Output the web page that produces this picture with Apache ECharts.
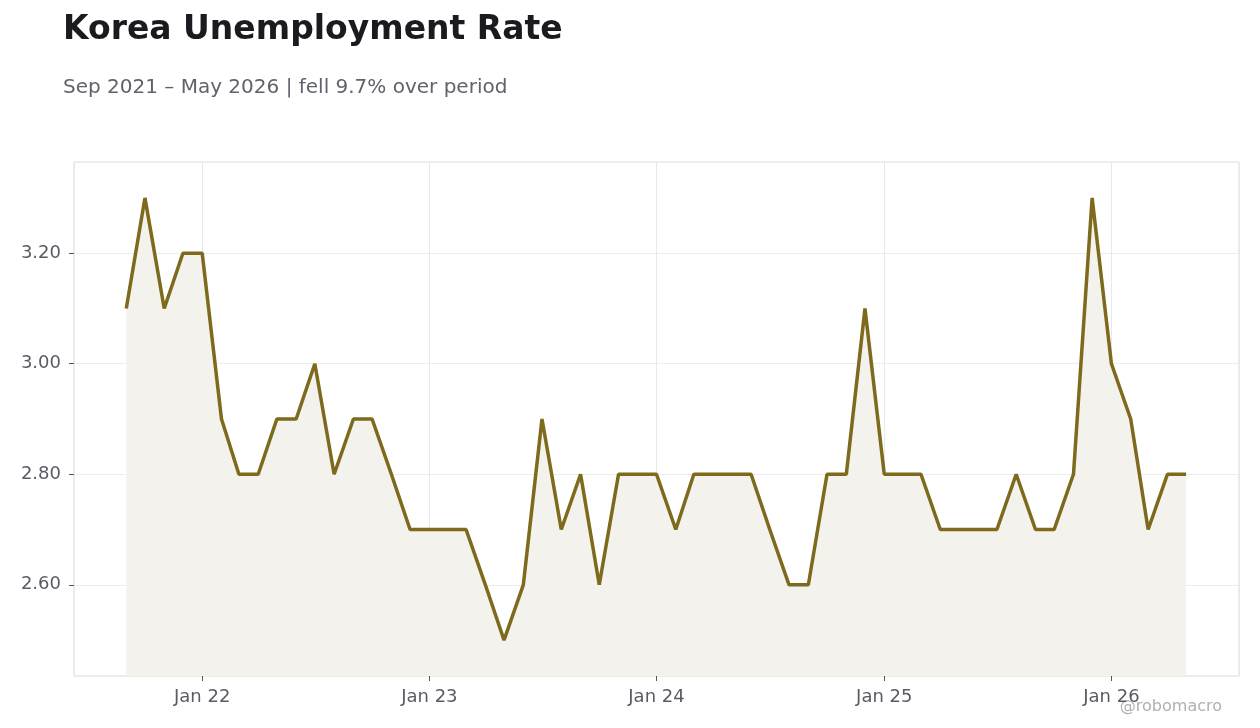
<!DOCTYPE html>
<html>
<head>
    <meta charset="UTF-8">
    <title>Korea Unemployment Rate</title>
    <style>
        *{
            margin: 0;
            padding: 0;
        }
        .container{
            width: 1260px;
            height: 728px;
            background: #fff;
        }
    </style>
    <script src="https://cdn.jsdelivr.net/npm/echarts@6/dist/echarts.min.js"></script>
</head>
<body>
<div class="container"></div>
<script>
    // monthly readings, Sep 2021 .. May 2026
    let startYear=2021, startMonth=8
    let rates=[
        3.1,3.3,3.1,3.2,
        3.2,2.9,2.8,2.8,2.9,2.9,3.0,2.8,2.9,2.9,2.8,2.7,
        2.7,2.7,2.7,2.6,2.5,2.6,2.9,2.7,2.8,2.6,2.8,2.8,
        2.8,2.7,2.8,2.8,2.8,2.8,2.7,2.6,2.6,2.8,2.8,3.1,
        2.8,2.8,2.8,2.7,2.7,2.7,2.7,2.8,2.7,2.7,2.8,3.3,
        3.0,2.9,2.7,2.8,2.8
    ]
    let data=rates.map((v,i)=>[Date.UTC(startYear,startMonth+i,1),v])

    let font='DejaVu Sans'
    let container=document.querySelector('.container')
    let mychart=echarts.init(container)
    let option={
        useUTC:true,
        animation:false,
        title:[{
            text:'Korea Unemployment Rate',
            left:58,
            top:9,
            textStyle:{fontFamily:font,fontSize:33,fontWeight:'bold',color:'#1a1a1f'}
        },{
            text:'Sep 2021 \u2013 May 2026 | fell 9.7% over period',
            left:58,
            top:73,
            textStyle:{fontFamily:font,fontSize:20,fontWeight:'normal',color:'#62626c'}
        }],
        graphic:[{
            type:'text',
            right:38,
            bottom:13,
            style:{text:'@robomacro',fill:'#b0b0b5',font:'16px "DejaVu Sans"'}
        }],
        grid:{
            left:74,
            right:21,
            top:162,
            bottom:52,
            show:true,
            borderColor:'#dcdcdc',
            borderWidth:1
        },
        xAxis:{
            type:'time',
            min:Date.UTC(2021,5,9),
            max:Date.UTC(2026,6,25),
            splitNumber:5,
            axisLine:{show:false},
            axisTick:{show:true,length:5,lineStyle:{color:'#555'}},
            axisLabel:{
                fontFamily:font,fontSize:18,color:'#5b5b66',margin:12,
                formatter:function(v){
                    let d=new Date(v)
                    if(d.getUTCMonth()!==0||d.getUTCDate()!==1) return ''
                    return 'Jan '+String(d.getUTCFullYear()).slice(2)
                }
            },
            splitLine:{show:true,lineStyle:{color:'#e8e8e8'}}
        },
        yAxis:{
            type:'value',
            min:2.435,
            max:3.365,
            splitNumber:5,
            axisLine:{show:false},
            axisTick:{show:true,length:5,lineStyle:{color:'#555'}},
            axisLabel:{
                fontFamily:font,fontSize:18,color:'#5b5b66',margin:13,
                showMinLabel:false,showMaxLabel:false,
                formatter:v=>v.toFixed(2)
            },
            splitLine:{show:true,lineStyle:{color:'#ececec'}}
        },
        series:[{
            type:'line',
            data:data,
            showSymbol:false,
            lineStyle:{color:'#7d6a1c',width:3.5},
            itemStyle:{color:'#7d6a1c'},
            areaStyle:{color:'#f3f2ec',opacity:1}
        }]
    }
    mychart.setOption(option)
</script>
</body>
</html>
